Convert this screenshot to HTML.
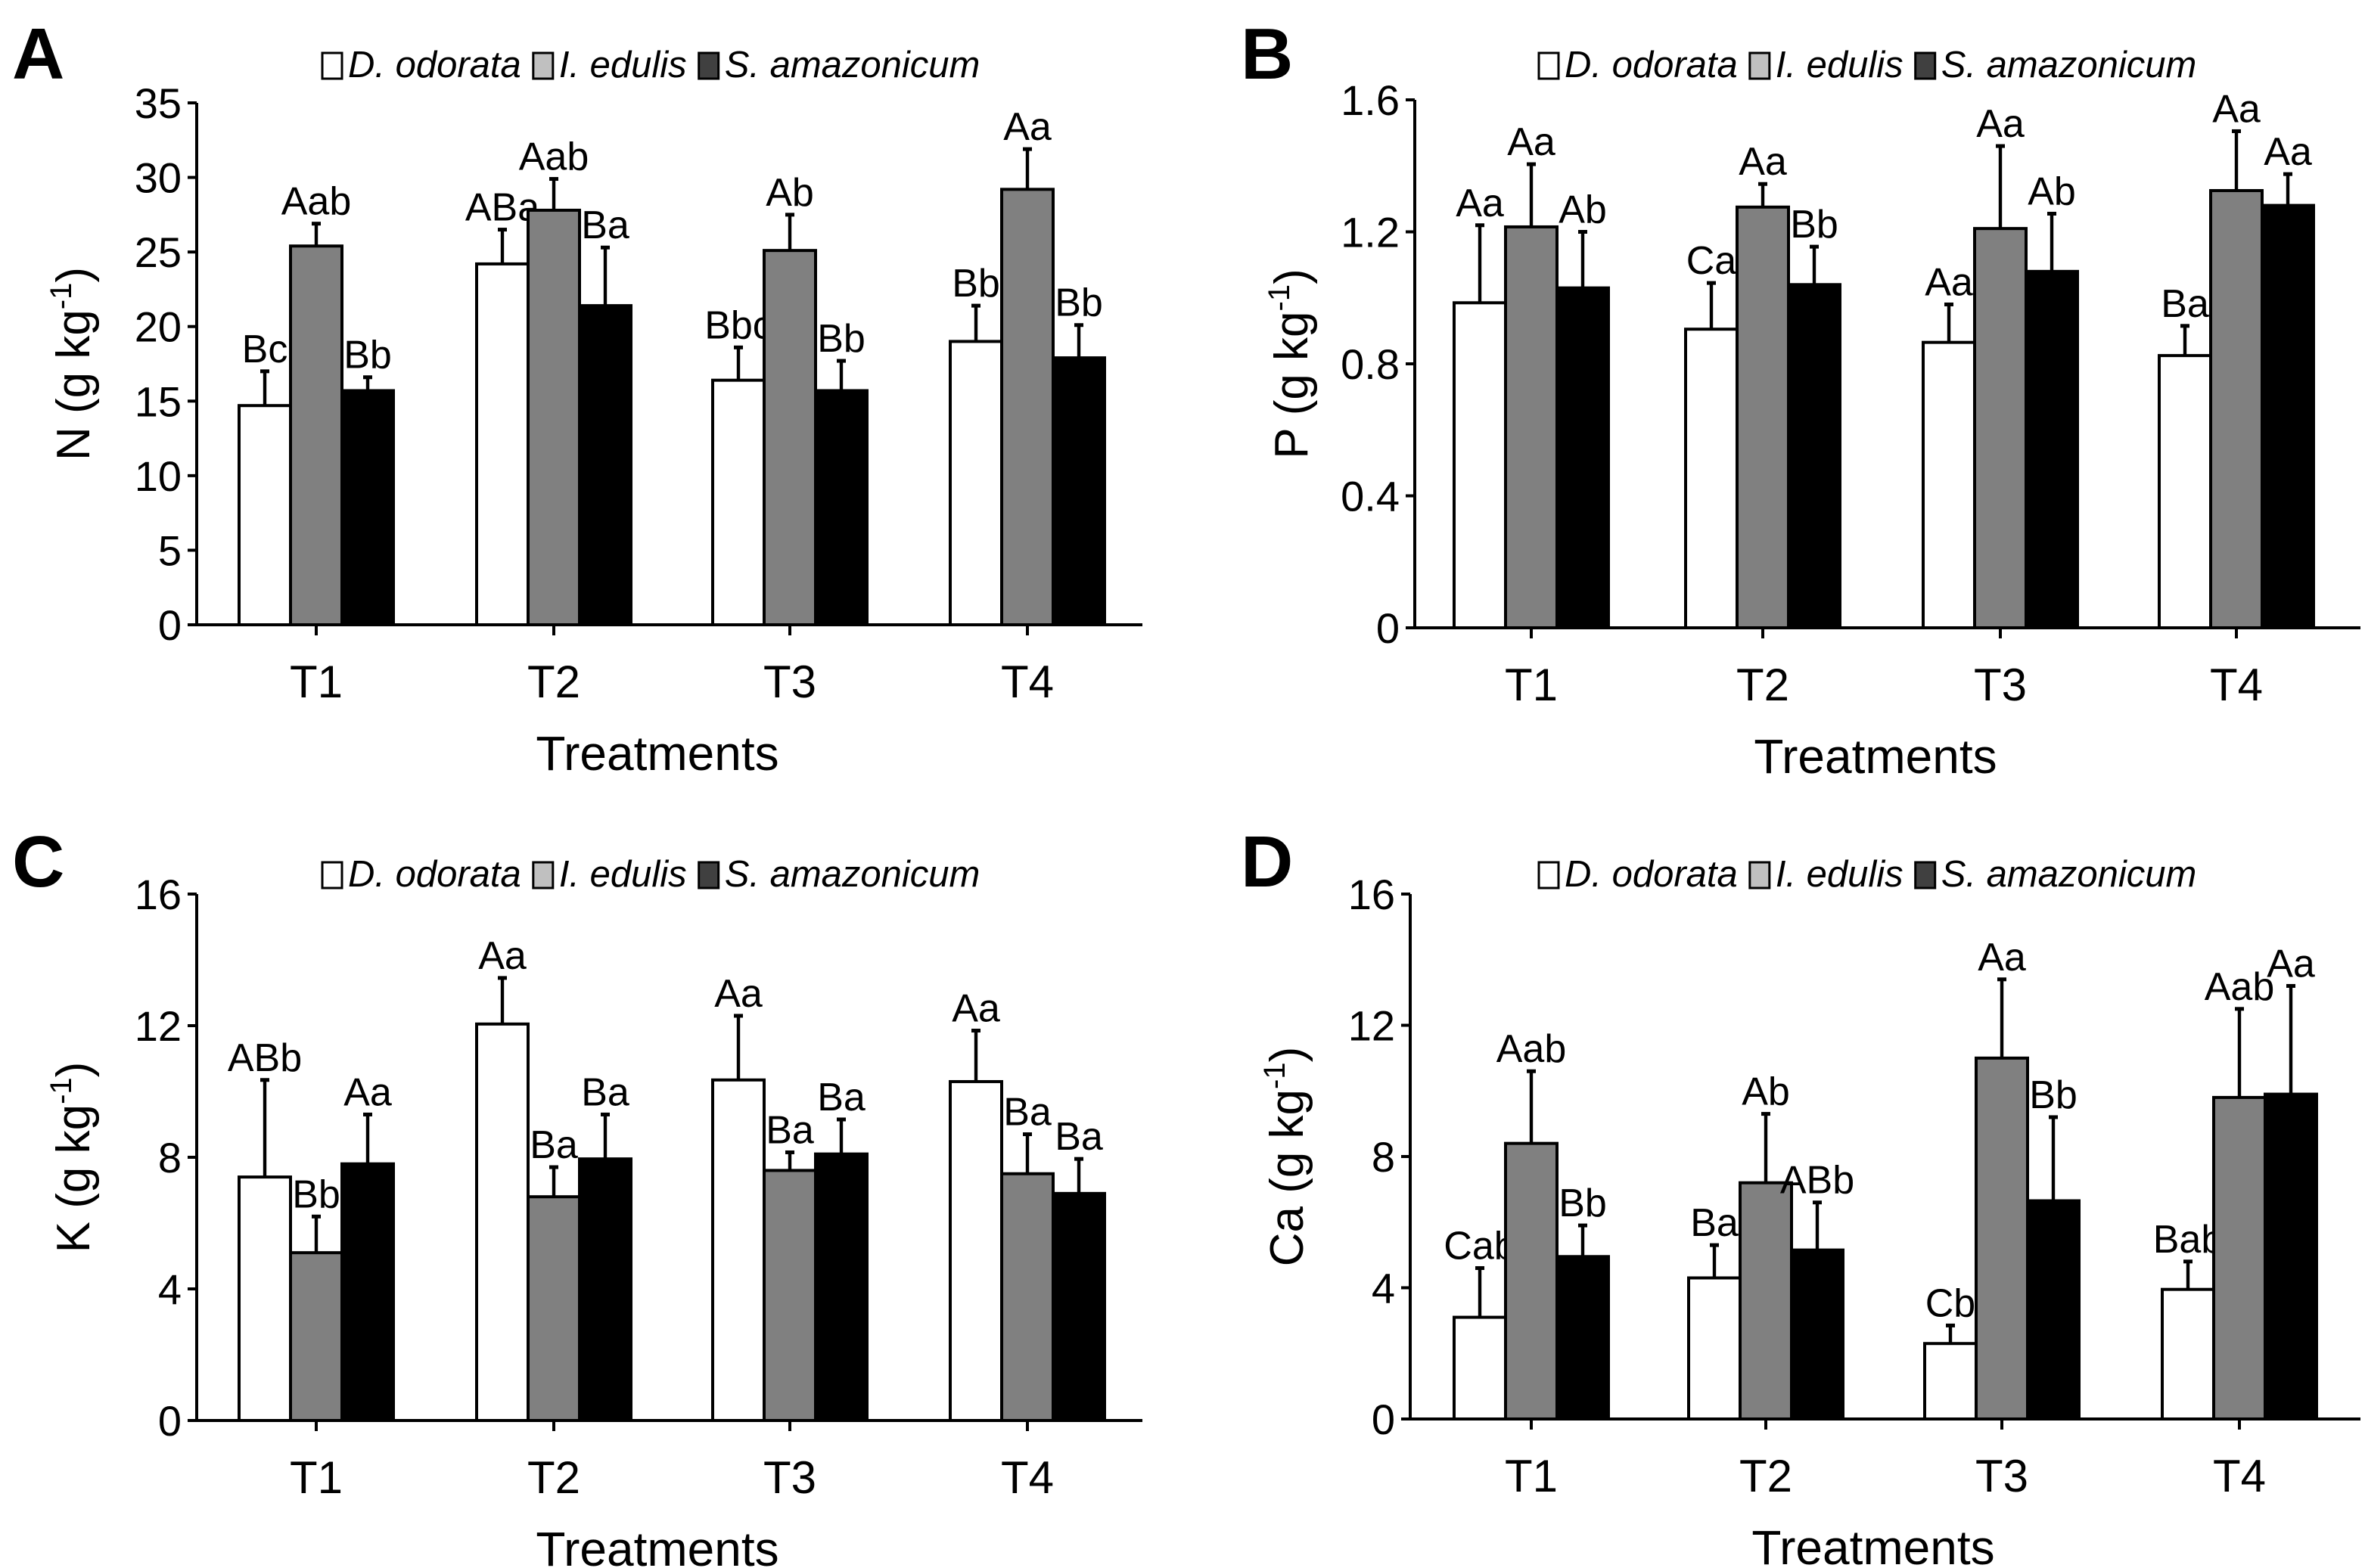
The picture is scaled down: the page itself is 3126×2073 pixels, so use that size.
<!DOCTYPE html>
<html><head><meta charset="utf-8"><style>
html,body{margin:0;padding:0;background:#fff}
svg{display:block}
text{font-family:"Liberation Sans",sans-serif;fill:#000}
</style></head><body>
<svg id="fig" width="3126" height="2073" viewBox="0 0 1563 1036.5" xmlns="http://www.w3.org/2000/svg"></svg>
<script>
const categories = ["T1","T2","T3","T4"];
const species = ["D. odorata","I. edulis","S. amazonicum"];
// Panel A: N
const nMeans = [[14.7,24.2,16.4,19.0],[25.4,27.8,25.1,29.2],[15.7,21.4,15.7,17.9]];
const nTops  = [[17.0,26.5,18.6,21.4],[26.9,29.9,27.5,31.9],[16.6,25.3,17.7,20.1]];
const nLetters = [["Bc","ABa","Bbc","Bb"],["Aab","Aab","Ab","Aa"],["Bb","Ba","Bb","Bb"]];
const nTicks = [0,5,10,15,20,25,30,35];
// Panel B: P
const pMeans = [[0.985,0.905,0.865,0.825],[1.215,1.275,1.21,1.325],[1.03,1.04,1.08,1.28]];
const pTops  = [[1.22,1.045,0.98,0.915],[1.405,1.345,1.46,1.505],[1.2,1.155,1.255,1.375]];
const pLetters = [["Aa","Ca","Aa","Ba"],["Aa","Aa","Aa","Aa"],["Ab","Bb","Ab","Aa"]];
const pTicks = [0,0.4,0.8,1.2,1.6];
const pTickLabels = ["0","0.4","0.8","1.2","1.6"];
// Panel C: K
const kMeans = [[7.4,12.05,10.35,10.3],[5.1,6.8,7.6,7.5],[7.8,7.95,8.1,6.9]];
const kTops  = [[10.35,13.45,12.3,11.85],[6.2,7.7,8.15,8.7],[9.3,9.3,9.15,7.95]];
const kLetters = [["ABb","Aa","Aa","Aa"],["Bb","Ba","Ba","Ba"],["Aa","Ba","Ba","Ba"]];
const kTicks = [0,4,8,12,16];
// Panel D: Ca
const caMeans = [[3.1,4.3,2.3,3.95],[8.4,7.2,11.0,9.8],[4.95,5.15,6.65,9.9]];
const caTops  = [[4.6,5.3,2.85,4.8],[10.6,9.3,13.4,12.5],[5.9,6.6,9.2,13.2]];
const caLetters = [["Cab","Ba","Cb","Bab"],["Aab","Ab","Aa","Aab"],["Bb","ABb","Bb","Aa"]];
const caTicks = [0,4,8,12,16];

const NS="http://www.w3.org/2000/svg";
const svg=document.getElementById('fig');
const fills=["#fff","#808080","#000"];
const legFills=["#fff","#c0c0c0","#404040"];
function mk(tag,attrs,parent){const e=document.createElementNS(NS,tag);for(const k in attrs)e.setAttribute(k,attrs[k]);(parent||svg).appendChild(e);return e;}

function panel(cfg){
  const g=mk('g',{});
  
  
  const ymax=cfg.ticks[cfg.ticks.length-1];
  const y=v=>cfg.y0-(v/ymax)*(cfg.y0-cfg.ytop);
  const bw=34;
  const pl=mk('text',{x:cfg.lx,y:cfg.ly,'font-size':48,'font-weight':'bold'},g);pl.textContent=cfg.id;
  
  
  let lx=cfg.legX;
  species.forEach((s,i)=>{
    const r=mk('rect',{x:lx,y:cfg.legY-16,width:13,height:17,fill:legFills[i],stroke:'#000','stroke-width':1.5},g);
    
    
    const t=mk('text',{x:lx+17,y:cfg.legY,'font-size':24.5,'font-style':'italic'},g);t.textContent=s;
    
    
    lx+=17+t.getComputedTextLength()+8;
  });
  for(let si=0;si<3;si++){
    for(let ci=0;ci<categories.length;ci++){
      const cx=cfg.centers[ci]+(si-1)*bw;
      const v=cfg.means[si][ci], top=cfg.tops[si][ci];
      const ey=y(top);
      const el=mk('line',{x1:cx,x2:cx,y1:y(v),y2:ey,stroke:'#000','stroke-width':2.2},g);
      
      
      const cap=mk('line',{x1:cx-3,x2:cx+3,y1:ey,y2:ey,stroke:'#000','stroke-width':2.5},g);
      
      
      const b=mk('rect',{x:cx-bw/2,y:y(v),width:bw,height:cfg.y0-y(v),fill:fills[si],stroke:'#000','stroke-width':2},g);
      
      
      const t=mk('text',{x:cx,y:ey-6,'font-size':26,'text-anchor':'middle'},g);t.textContent=cfg.letters[si][ci];
      
      
    }
  }
  const ya=mk('line',{x1:cfg.ax,x2:cfg.ax,y1:cfg.ytop,y2:cfg.y0,stroke:'#000','stroke-width':2},g);
  
  
  const xa=mk('line',{x1:cfg.ax-6,x2:cfg.xEnd,y1:cfg.y0,y2:cfg.y0,stroke:'#000','stroke-width':2},g);
  
  
  cfg.ticks.forEach((tv,i)=>{
    mk('line',{x1:cfg.ax-6,x2:cfg.ax,y1:y(tv),y2:y(tv),stroke:'#000','stroke-width':2},g);
    const t=mk('text',{x:cfg.ax-10,y:y(tv)+10,'font-size':28,'text-anchor':'end'},g);
    t.textContent=cfg.tickLabels?cfg.tickLabels[i]:String(tv);
    
    
  });
  categories.forEach((c,ci)=>{
    mk('line',{x1:cfg.centers[ci],x2:cfg.centers[ci],y1:cfg.y0,y2:cfg.y0+7,stroke:'#000','stroke-width':2},g);
    const t=mk('text',{x:cfg.centers[ci],y:cfg.y0+48,'font-size':30,'text-anchor':'middle'},g);t.textContent=c;
    
    
  });
  const xt=mk('text',{x:(cfg.ax+cfg.xEnd)/2-8,y:cfg.y0+96,'font-size':32,'text-anchor':'middle'},g);xt.textContent='Treatments';
  
  
  const yt=mk('text',{x:0,y:0,'font-size':31,'text-anchor':'middle',transform:`translate(${cfg.ax-71},${(cfg.y0+cfg.ytop)/2}) rotate(-90)`},g);
  yt.innerHTML=cfg.yTitle+' (g kg<tspan dy="-12" font-size="20">-1</tspan><tspan dy="12">)</tspan>';
  
  
}
panel({id:'A',lx:8,ly:52,legX:213,legY:51,ax:130,y0:413,ytop:68,xEnd:755,centers:[209,366,522,679],ticks:nTicks,means:nMeans,tops:nTops,letters:nLetters,yTitle:'N'});
panel({id:'B',lx:820,ly:52,legX:1017,legY:51,ax:935,y0:415,ytop:66,xEnd:1560,centers:[1012,1165,1322,1478],ticks:pTicks,tickLabels:pTickLabels,means:pMeans,tops:pTops,letters:pLetters,yTitle:'P'});
panel({id:'C',lx:8,ly:586,legX:213,legY:586,ax:130,y0:939,ytop:591,xEnd:755,centers:[209,366,522,679],ticks:kTicks,means:kMeans,tops:kTops,letters:kLetters,yTitle:'K'});
panel({id:'D',lx:820,ly:586,legX:1017,legY:586,ax:932,y0:938,ytop:591,xEnd:1560,centers:[1012,1167,1323,1480],ticks:caTicks,means:caMeans,tops:caTops,letters:caLetters,yTitle:'Ca'});
</script>
</body></html>
